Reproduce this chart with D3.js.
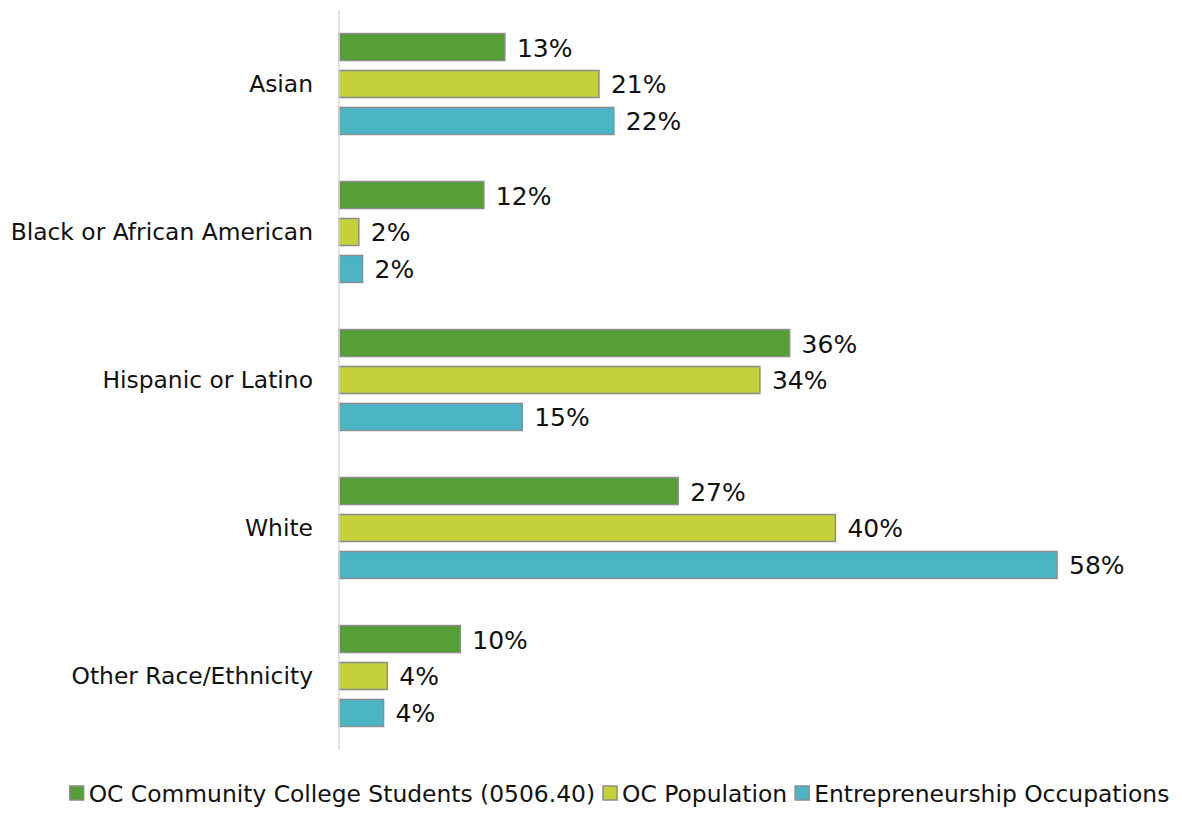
<!DOCTYPE html>
<html>
<head>
<meta charset="utf-8">
<script src="https://cdn.jsdelivr.net/npm/d3@7"></script>
<style>
  body { margin: 0; background: #fff; }
  svg text { font-family: 'DejaVu Sans', sans-serif; fill: #111; }
</style>
</head>
<body>
<div id="chart"></div>
<script>
const categories = ['Asian', 'Black or African American', 'Hispanic or Latino', 'White', 'Other Race/Ethnicity'];
const seriesNames = ['OC Community College Students (0506.40)', 'OC Population', 'Entrepreneurship Occupations'];
const students = [13.4, 11.7, 36.4, 27.4, 9.8];
const population = [21.0, 1.6, 34.0, 40.1, 3.9];
const occupations = [22.2, 1.9, 14.8, 58.0, 3.6];
const seriesColors = ['#559e38', '#c4d13a', '#4bb5c5'];

const width = 1182, height = 818;
const margin = { top: 10, right: 125, bottom: 68, left: 339 };

const series = [students, population, occupations];
const rows = categories.map((c, i) => ({ cat: c, values: series.map((s, j) => ({ key: j, value: s[i] })) }));

const svg = d3.select('#chart').append('svg')
  .attr('width', width)
  .attr('height', height);

const plotW = width - margin.left - margin.right;
const plotH = height - margin.top - margin.bottom;

const g = svg.append('g').attr('transform', `translate(${margin.left},${margin.top})`);

const y0 = d3.scaleBand().domain(categories).range([0, plotH]).paddingInner(0.318).paddingOuter(0.159);
const y1 = d3.scaleBand().domain(d3.range(series.length)).range([0, y0.bandwidth()]).paddingInner(0.27).paddingOuter(0);
const x = d3.scaleLinear().domain([0, 58]).range([0, 718]);

// bars
const groups = g.selectAll('g.grp')
  .data(rows)
  .join('g')
  .attr('class', 'grp')
  .attr('transform', d => `translate(0,${y0(d.cat)})`);

groups.selectAll('rect')
  .data(d => d.values)
  .join('rect')
  .attr('x', 0)
  .attr('y', d => y1(d.key))
  .attr('width', d => x(d.value))
  .attr('height', y1.bandwidth())
  .attr('fill', d => seriesColors[d.key])
  .attr('stroke', '#8c8c8c')
  .attr('stroke-width', 1.5);

groups.selectAll('text.val')
  .data(d => d.values)
  .join('text')
  .attr('class', 'val')
  .attr('x', d => x(d.value) + 12)
  .attr('y', d => y1(d.key) + y1.bandwidth() / 2 + 1)
  .attr('dominant-baseline', 'central')
  .style('font-size', '25px')
  .text(d => Math.round(d.value) + '%');

// y axis
const yAxis = d3.axisLeft(y0).tickSize(0).tickPadding(26);
g.append('g')
  .call(yAxis)
  .call(a => a.select('.domain').attr('stroke', '#d9d9d9').attr('stroke-width', 1.5).attr('d', `M0,0V${plotH}`))
  .call(a => a.selectAll('text').style('font-size', '23.4px').attr('fill', '#111').attr('font-family', null));

// legend
const legendY = 793;
const legend = svg.append('g').attr('class', 'legend');
let lx = 0;
seriesNames.forEach((name, i) => {
  const item = legend.append('g').attr('transform', `translate(${lx},${legendY})`);
  item.append('rect')
    .attr('x', 0).attr('y', -7)
    .attr('width', 14).attr('height', 14)
    .attr('fill', seriesColors[i])
    .attr('stroke', '#8c8c8c')
    .attr('stroke-width', 1.5);
  const t = item.append('text')
    .attr('x', 19)
    .attr('y', 1)
    .attr('dominant-baseline', 'central')
    .style('font-size', '23.4px')
    .text(name);
  lx += 19 + t.node().getComputedTextLength() + 8;
});
const legendW = lx - 8;
legend.attr('transform', `translate(${(64 + 1175 - legendW) / 2},0)`);
</script>
</body>
</html>
